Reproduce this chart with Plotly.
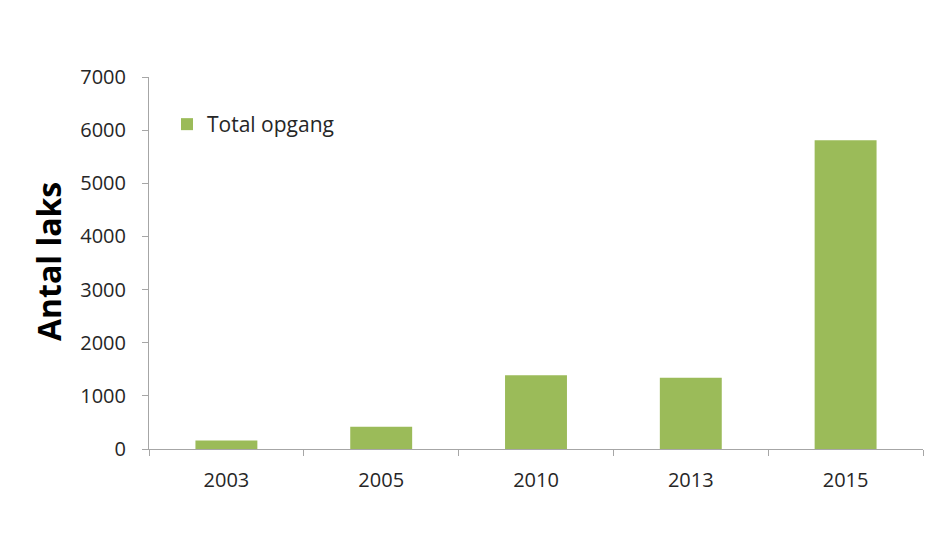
import plotly.graph_objects as go

years = ["2003", "2005", "2010", "2013", "2015"]
total_opgang = [160, 420, 1390, 1340, 5810]
y_ticks = [0, 1000, 2000, 3000, 4000, 5000, 6000, 7000]

# The page body has an 8px default margin; figure is sized to fit the window.
OFF = 8
W, H = 934 - OFF, 535 - OFF
PL, PR, PT, PB = 149, 923, 77, 449  # plot area in window pixels
L, R, T, B = PL - OFF, 934 - PR, PT - OFF, 535 - PB

def px(x):
    return (x - PL) / (PR - PL)

def py(y):
    return 1 - (y - PT) / (PB - PT)

FONT = "Open Sans"

fig = go.Figure()
fig.add_trace(go.Bar(
    x=years, y=total_opgang, name="Total opgang",
    marker=dict(color="#9bbb59", line=dict(width=0)),
))

fig.update_layout(
    width=W, height=H,
    margin=dict(l=L, r=R, t=T, b=B),
    paper_bgcolor="#ffffff",
    plot_bgcolor="#ffffff",
    bargap=0.6,
    showlegend=True,
    legend=dict(x=px(167), y=py(104), xanchor="left", yanchor="top",
                bgcolor="rgba(0,0,0,0)", font=dict(family=FONT, size=21, color="#262626"),
                itemwidth=30),
    xaxis=dict(
        type="category", showgrid=False, showline=True, linecolor="#a6a6a6", linewidth=1,
        ticks="outside", tickson="boundaries", ticklen=6, tickcolor="#a6a6a6",
        ticklabelstandoff=13,
        tickfont=dict(family=FONT, size=20, color="#262626"),
    ),
    yaxis=dict(
        range=[0, 7000], tickvals=y_ticks, showgrid=False, zeroline=False,
        showline=True, linecolor="#a6a6a6", linewidth=1,
        ticks="outside", ticklen=6, tickcolor="#a6a6a6",
        ticklabelstandoff=12,
        tickfont=dict(family=FONT, size=20, color="#262626"),
    ),
    annotations=[dict(
        text="<b>Antal laks</b>", textangle=-90, xref="paper", yref="paper",
        x=px(48), y=py(262), xanchor="center", yanchor="middle", showarrow=False,
        font=dict(family=FONT, size=32, color="#000000"),
    )],
)

fig.write_html("out.html")
